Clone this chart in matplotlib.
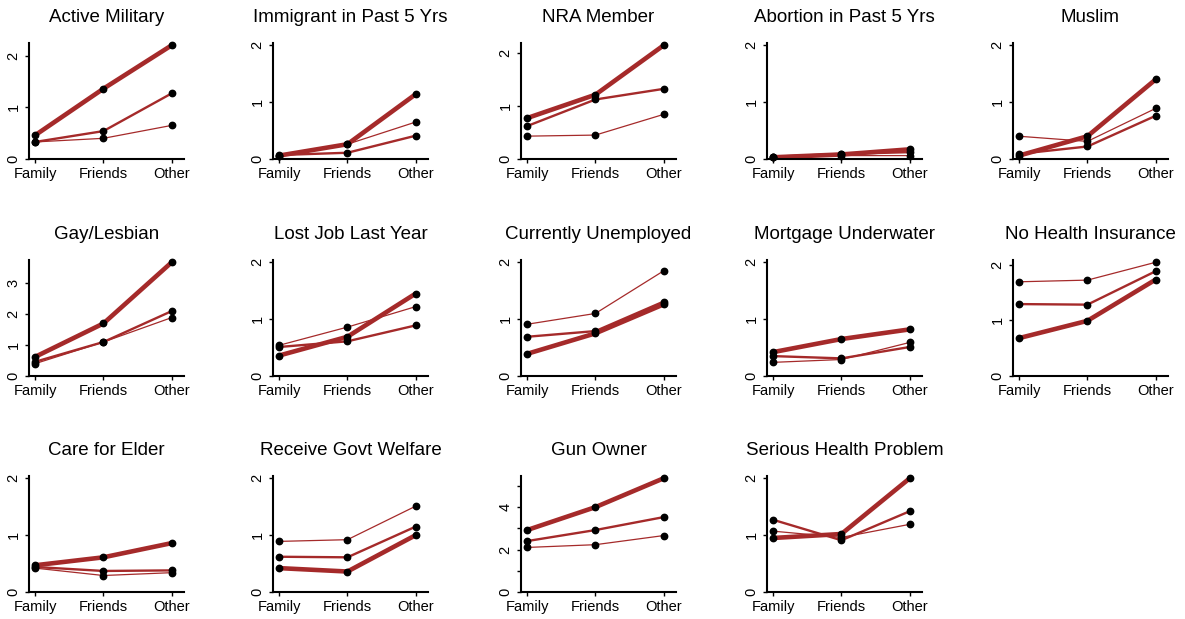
import matplotlib.pyplot as plt
import numpy as np

plt.rcParams['font.family'] = ['Liberation Sans', 'DejaVu Sans']

# data: one triple (Family, Friends, Other) per panel
groups = ['Family', 'Friends', 'Other']
titles = ['Active Military', 'Immigrant in Past 5 Yrs', 'NRA Member',
          'Abortion in Past 5 Yrs', 'Muslim', 'Gay/Lesbian', 'Lost Job Last Year',
          'Currently Unemployed', 'Mortgage Underwater', 'No Health Insurance',
          'Care for Elder', 'Receive Govt Welfare', 'Gun Owner',
          'Serious Health Problem']

thick_vals = [
    [0.46, 1.36, 2.20], [0.06, 0.26, 1.14], [0.77, 1.21, 2.14],
    [0.03, 0.08, 0.17], [0.06, 0.40, 1.40], [0.62, 1.70, 3.68],
    [0.36, 0.69, 1.45], [0.39, 0.75, 1.26], [0.42, 0.65, 0.82],
    [0.68, 0.99, 1.73], [0.47, 0.61, 0.86], [0.42, 0.36, 1.00],
    [2.92, 4.00, 5.36], [0.95, 1.02, 2.00],
]
medium_vals = [
    [0.33, 0.54, 1.27], [0.07, 0.11, 0.41], [0.62, 1.12, 1.32],
    [0.04, 0.09, 0.12], [0.09, 0.22, 0.76], [0.46, 1.10, 2.10],
    [0.51, 0.61, 0.89], [0.69, 0.79, 1.31], [0.35, 0.31, 0.51],
    [1.29, 1.28, 1.88], [0.44, 0.37, 0.38], [0.62, 0.61, 1.15],
    [2.40, 2.92, 3.53], [1.27, 0.91, 1.42],
]
thin_vals = [
    [0.33, 0.40, 0.65], [0.06, 0.26, 0.65], [0.43, 0.45, 0.84],
    [0.03, 0.06, 0.06], [0.40, 0.31, 0.89], [0.40, 1.10, 1.89],
    [0.54, 0.86, 1.22], [0.91, 1.10, 1.85], [0.24, 0.29, 0.59],
    [1.69, 1.72, 2.04], [0.42, 0.29, 0.34], [0.89, 0.92, 1.51],
    [2.10, 2.23, 2.66], [1.07, 0.96, 1.19],
]

W, H = 1185, 619
fig = plt.figure(figsize=(W / 100, H / 100), dpi=100)
col_left = [29, 273, 521, 767, 1013]
row_top = [43, 260, 476]
ax_w, ax_h = 155, 116
red = '#A52A2A'
x = np.arange(1, len(groups) + 1)

for i, title in enumerate(titles):
    r, c = divmod(i, 5)
    ax = fig.add_axes([col_left[c] / W, 1 - (row_top[r] + ax_h) / H, ax_w / W, ax_h / H])
    series = [(thick_vals[i], 3.3), (medium_vals[i], 1.7), (thin_vals[i], 0.9)]
    for vals, lw in series:
        ax.plot(x, vals, color=red, lw=lw, solid_capstyle='butt', zorder=2)
    for vals, lw in series:
        ax.plot(x, vals, 'o', color='black', ms=4.6, zorder=3, clip_on=False)

    top = max(2, max(thick_vals[i] + medium_vals[i] + thin_vals[i])) * 1.02
    ax.set_ylim(0, top)
    ax.set_xlim(0.91, 3.18)
    ticks = list(range(0, int(top) + 1))
    ax.set_yticks(ticks)
    ax.set_yticklabels([str(t) if top < 5 or t % 2 == 0 else '' for t in ticks],
                       rotation=90, va='center', ha='right')
    ax.set_xticks(x)
    ax.set_xticklabels(groups)
    ax.tick_params(labelsize=10.5, length=3, width=1, pad=3, color='black')
    for s in ['top', 'right']:
        ax.spines[s].set_visible(False)
    for s in ['left', 'bottom']:
        ax.spines[s].set_linewidth(1.5)
    ax.set_title(title, fontsize=13.5, pad=15)

fig.savefig('out.png', dpi=100)
